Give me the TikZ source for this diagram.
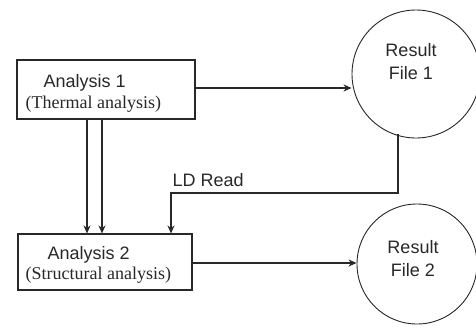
\documentclass[tikz,border=0pt]{standalone}
\usepackage{fontspec}
\setmainfont{Liberation Serif}
\newfontfamily\arialf{Liberation Sans}
\usetikzlibrary{arrows.meta}
\begin{document}
\begin{tikzpicture}[x=1pt,y=-1pt,
  line width=1.1pt, draw={rgb,255:red,40;green,40;blue,40},
  boxst/.style={draw, rectangle, minimum width=#1, inner sep=0pt},
  circst/.style={draw, circle, inner sep=0pt, line width=0.9pt},
  sanslbl/.style={font=\arialf\fontsize{18}{22}\selectfont, text={rgb,255:red,40;green,40;blue,40}, inner sep=0pt},
  seriflbl/.style={font=\fontsize{18}{22}\selectfont, text={rgb,255:red,40;green,40;blue,40}, inner sep=0pt},
  arr/.style={-{Stealth[length=8pt,width=7pt,inset=2.5pt]}}]
\useasboundingbox[fill=white] (0,0) rectangle (476,332);
% boxes
\node[boxst=178pt, minimum height=59pt] (a1) at (106,89.5) {};
\node[boxst=174pt, minimum height=56pt] (a2) at (105,262) {};
\node[sanslbl, anchor=base west] (a1t) at (43,87) {Analysis 1};
\node[seriflbl, anchor=base west] (a1s) at (25,108) {(Thermal analysis)};
\node[sanslbl, anchor=base west] (a2t) at (47,259) {Analysis 2};
\node[seriflbl, anchor=base west] (a2s) at (25,279) {(Structural analysis)};
% circles
\node[circst, minimum size=128pt] (r1) at (416,74) {};
\node[circst, minimum size=120pt] (r2) at (417,264) {};
\node[sanslbl, align=center] (r1t) at (411,62) {Result\\[1pt]File 1};
\node[sanslbl, align=center] (r2t) at (413,259) {Result\\[1pt]File 2};
% LD read label
\node[sanslbl, anchor=base west] (ld) at (172,186) {LD Read};
% connectors
\draw[arr] (a1.east |- 0,88) -- (r1.west |- 0,88);
\draw[arr] (a2.east |- 0,263) -- (r2.west |- 0,263);
\draw[arr] (87,119) -- (a2.north -| 87,0);
\draw[arr] (102,119) -- (a2.north -| 102,0);
\coordinate (c1) at (398,193);
\coordinate (c2) at (171,193);
\draw[arr] (r1.south -| 398,0) ++(0,-4) -- (c1) -- (c2) -- (a2.north -| 171,0);
\end{tikzpicture}
\end{document}
